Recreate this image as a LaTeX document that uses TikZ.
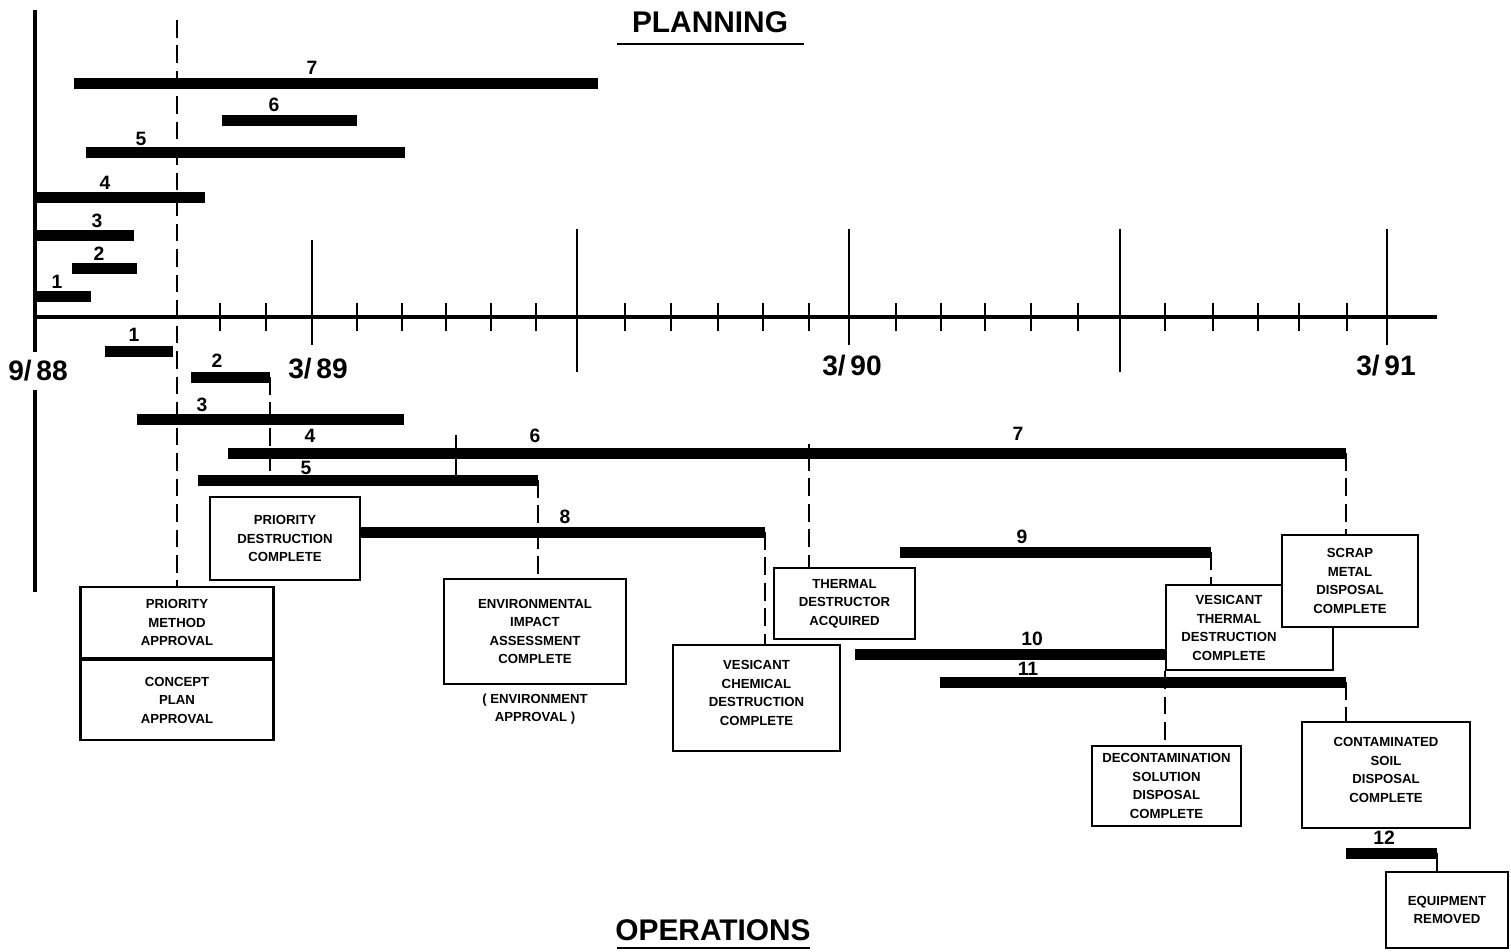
\documentclass[tikz,border=0pt]{standalone}
\usepackage{fontspec}
\setmainfont{Liberation Sans}
\usetikzlibrary{positioning}

\tikzset{
  ganttbar/.style={line width=0.22cm},
  boxtext/.style={align=center, inner sep=0pt, font=\bfseries\fontsize{7.5}{10.5}\selectfont},
  msbox/.style={boxtext, draw, line width=1.3pt, fill=white},
  barnum/.style={font=\bfseries\fontsize{11}{11}\selectfont},
  datelabel/.style={font=\bfseries\fontsize{16}{16}\selectfont},
  headline/.style={font=\bfseries\fontsize{17}{17}\selectfont},
  dashline/.style={line width=1.1pt, dash pattern=on 10pt off 4.5pt},
  tickline/.style={line width=1.1pt},
  axisline/.style={line width=2.2pt},
}

\begin{document}
\begin{tikzpicture}[x=0.02cm, y=-0.02cm]
  \useasboundingbox (0,0) rectangle (1511,951);

  % Headings
  \node[headline] (plan) at (710,22) {PLANNING};
  \draw[line width=1.4pt] (617,44) -- (804,44);
  \node[headline] (oper) at (713,930) {OPERATIONS};
  \draw[line width=1.4pt] (617,948) -- (810,948);

  % Time axis
  \draw[axisline] (35,317) -- (1437,317);
  \draw[axisline] (35,10) -- (35,352);
  \draw[axisline] (35,390) -- (35,592);
  \foreach \x in {220,266,357,402,446,491,536,625,671,718,763,809,
                  896,941,985,1031,1078,1165,1213,1258,1299,1347}
    \draw[tickline] (\x,303) -- (\x,331);
  \foreach \x/\a/\b in {312/240/345, 577/229/372, 849/229/345, 1120/229/372, 1387/229/345}
    \draw[tickline] (\x,\a) -- (\x,\b);
  \node[datelabel] (d988) at (38,371) {9/\,88};
  \node[datelabel] (d389) at (318,369) {3/\,89};
  \node[datelabel] (d390) at (852,366) {3/\,90};
  \node[datelabel] (d391) at (1386,366) {3/\,91};

  % Planning bars
  \foreach \a/\b/\y/\n/\lx/\ly in {74/598/83/7/312/68, 222/357/120/6/274/105,
      86/405/152/5/141/139, 35/205/197/4/105/183, 35/134/235/3/97/221,
      72/137/268/2/99/254, 35/91/296/1/57/282} {
    \draw[ganttbar] (\a,\y) -- (\b,\y);
    \node[barnum] at (\lx,\ly) {\n};
  }

  % Milestone boxes
  \node[msbox, minimum width=3cm, minimum height=1.66cm] (pdbox) at (285,538.5)
    {PRIORITY\\DESTRUCTION\\COMPLETE};
  \node[msbox, minimum width=3.86cm, minimum height=1.42cm] (pmbox) at (177,622.5)
    {PRIORITY\\METHOD\\APPROVAL};
  \node[msbox, minimum width=3.86cm, minimum height=1.6cm, below=0pt of pmbox] (cpbox)
    {CONCEPT\\PLAN\\APPROVAL};
  \node[msbox, minimum width=3.64cm, minimum height=2.1cm] (envbox) at (535,631.5)
    {ENVIRONMENTAL\\IMPACT\\ASSESSMENT\\COMPLETE};
  \node[boxtext, below=0.16cm of envbox] (envnote) {( ENVIRONMENT\\APPROVAL )};
  \node[msbox, minimum width=3.34cm, minimum height=2.12cm] (vcbox) at (756.5,698) {};
  \node[boxtext] (vctext) at (756.5,693) {VESICANT\\CHEMICAL\\DESTRUCTION\\COMPLETE};
  \node[msbox, minimum width=2.82cm, minimum height=1.42cm] (tdbox) at (844.5,603.5)
    {THERMAL\\DESTRUCTOR\\ACQUIRED};
  \node[msbox, minimum width=3.34cm, minimum height=1.7cm] (vtbox) at (1249.5,627.5) {};
  \node[boxtext] (vttext) at (1229,628) {VESICANT\\THERMAL\\DESTRUCTION\\COMPLETE};
  \node[msbox, minimum width=2.72cm, minimum height=1.84cm] (smbox) at (1350,581)
    {SCRAP\\METAL\\DISPOSAL\\COMPLETE};
  \node[msbox, minimum width=2.98cm, minimum height=1.6cm] (dcbox) at (1166.5,786)
    {DECONTAMINATION\\SOLUTION\\DISPOSAL\\COMPLETE};
  \node[msbox, minimum width=3.36cm, minimum height=2.12cm] (csbox) at (1386,775) {};
  \node[boxtext] (cstext) at (1386,770) {CONTAMINATED\\SOIL\\DISPOSAL\\COMPLETE};
  \node[msbox, minimum width=2.44cm, minimum height=1.52cm] (eqbox) at (1447,910)
    {EQUIPMENT\\REMOVED};

  % Operations bars
  \coordinate (o2e) at (270,377);
  \coordinate (o5s) at (198,480);
  \coordinate (o5e) at (538,480);
  \coordinate (o6e) at (809,453);
  \coordinate (o7e) at (1346,453);
  \coordinate (o8e) at (765,532);
  \coordinate (o9e) at (1211,552);
  \coordinate (o10s) at (855,654);
  \coordinate (o11e) at (1346,682);
  \coordinate (o12e) at (1437,853);
  \draw[ganttbar] (105,351) -- (173,351);
  \draw[ganttbar] (191,377) -- (o2e);
  \draw[ganttbar] (137,419) -- (404,419);
  \draw[ganttbar] (228,453) -- (o7e);
  \draw[ganttbar] (o5s) -- (o5e);
  \draw[ganttbar] (pdbox.east |- o8e) -- (o8e);
  \draw[ganttbar] (900,552) -- (o9e);
  \draw[ganttbar] (o10s) -- (o10s -| vtbox.west);
  \draw[ganttbar] (940,682) -- (o11e);
  \draw[ganttbar] (1346,853) -- (o12e);
  \node[barnum] at (134,335) {1};
  \node[barnum] at (217,361) {2};
  \node[barnum] at (202,405) {3};
  \node[barnum] at (310,436) {4};
  \node[barnum] at (306,468) {5};
  \node[barnum] at (535,436) {6};
  \node[barnum] at (1018,434) {7};
  \node[barnum] at (565,517) {8};
  \node[barnum] at (1022,537) {9};
  \node[barnum] at (1032,639) {10};
  \node[barnum] at (1028,669) {11};
  \node[barnum] at (1384,838) {12};

  % Links to milestones
  \draw[dashline] (177,20) -- (pmbox.north);
  \draw[dashline] (o2e) -- (o2e |- o5s);
  \draw[tickline] (456,435) -- (456,480);
  \draw[dashline] (o5e) -- (o5e |- envbox.north);
  \draw[tickline] (809,444) -- (o6e);
  \draw[dashline] (o6e) -- (o6e |- tdbox.north);
  \draw[dashline] (o7e) -- (o7e |- smbox.north);
  \draw[dashline] (o8e) -- (o8e |- vcbox.north);
  \draw[dashline] (o9e) -- (o9e |- vtbox.north);
  \draw[dashline] (vtbox.south west) -- (vtbox.south west |- dcbox.north);
  \draw[dashline] (o11e) -- (o11e |- csbox.north);
  \draw[line width=1.4pt] (o12e) -- (o12e |- eqbox.north);
\end{tikzpicture}
\end{document}
